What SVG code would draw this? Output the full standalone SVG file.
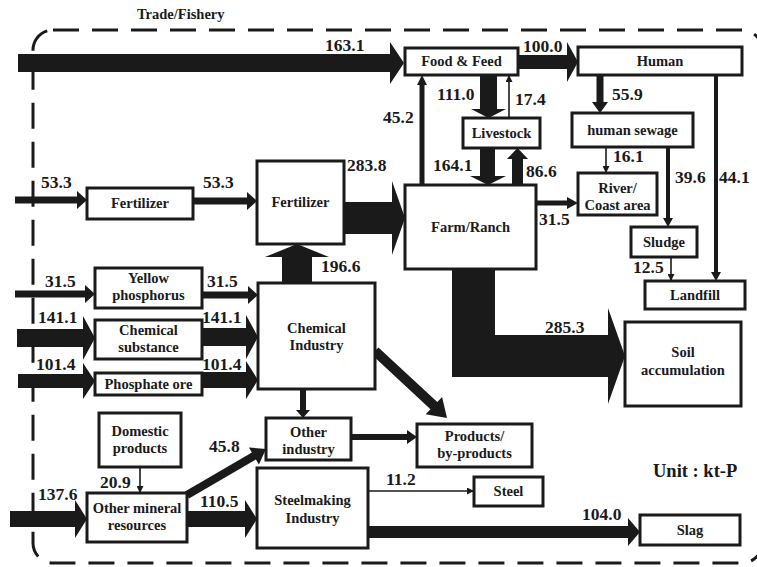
<svg xmlns="http://www.w3.org/2000/svg" width="757" height="567" viewBox="0 0 757 567">
<style>
.box{fill:#fff;stroke:#1a1a1a;stroke-width:3}
.flow{fill:#1a1a1a;stroke:none}
.thin{stroke:#1a1a1a;stroke-width:1.6;fill:none}
text{font-family:"Liberation Serif","Times New Roman",serif;font-weight:bold;fill:#1a1a1a}
.lbl{font-size:14.5px;text-anchor:middle}
.num{font-size:17.5px}
.border{fill:none;stroke:#1a1a1a;stroke-width:3;stroke-dasharray:26 13}
</style>
<defs>
<marker id="ah" viewBox="0 0 10 10" refX="10" refY="5" markerWidth="8" markerHeight="7" markerUnits="userSpaceOnUse" orient="auto">
<path d="M0,0 L10,5 L0,10 z" fill="#1a1a1a"/>
</marker>
</defs>
<rect width="757" height="567" fill="#fff"/>
<rect class="border" x="33" y="30" width="729" height="533" rx="20" ry="20"/>
<text x="137" y="19" style="font-size:14.5px">Trade/Fishery</text>

<g id="connectors">
<!-- 163.1 import to Food & Feed -->
<path class="flow" d="M18,54 L390,54 L390,42 L404,63 L390,84 L390,72 L18,72 Z"/>
<!-- 100.0 Food&Feed -> Human -->
<path class="flow" d="M518,55 L567,55 L567,42 L578,62 L567,82 L567,69 L518,69 Z"/>
<!-- 53.3 -> Fertilizer -->
<path class="flow" d="M15,196.5 L77,196.5 L77,191 L87,200 L77,209 L77,203.5 L15,203.5 Z"/>
<path class="flow" d="M193,197.5 L247,197.5 L247,192 L257,201 L247,210 L247,204.5 L193,204.5 Z"/>
<!-- 283.8 Fertilizer -> Farm -->
<path class="flow" d="M344,202 L392,202 L392,181 L405,218 L392,255 L392,234 L344,234 Z"/>
<!-- 196.6 Chemical -> Fertilizer -->
<path class="flow" d="M282,283 L282,257 L265,257 L297,244 L329,257 L312,257 L312,283 Z"/>
<!-- 31.5 -->
<path class="flow" d="M15,290.5 L85,290.5 L85,285 L95,294 L85,303 L85,297.5 L15,297.5 Z"/>
<path class="flow" d="M202,291.5 L248,291.5 L248,286 L258,295 L248,304 L248,298.5 L202,298.5 Z"/>
<!-- 141.1 -->
<path class="flow" d="M17,329 L83,329 L83,316 L95,338 L83,360 L83,347 L17,347 Z"/>
<path class="flow" d="M202,328 L246,328 L246,315 L258,337 L246,359 L246,346 L202,346 Z"/>
<!-- 101.4 -->
<path class="flow" d="M18,374 L83,374 L83,363 L95,381 L83,399 L83,388 L18,388 Z"/>
<path class="flow" d="M202,372 L246,372 L246,361 L258,380 L246,399 L246,388 L202,388 Z"/>
<!-- 137.6 -->
<path class="flow" d="M10,511 L75,511 L75,500 L87,519 L75,538 L75,527 L10,527 Z"/>
<!-- 110.5 -->
<path class="flow" d="M187,511 L245,511 L245,500 L257,519 L245,538 L245,527 L187,527 Z"/>
<!-- 45.8 Other mineral -> Other industry -->
<path class="flow" d="M185,491.5 L251.9,452.5 L248.9,447.4 L266,449 L258.9,464.6 L255.9,459.5 L189,498.5 Z"/>
<!-- Chemical -> Products -->
<path class="flow" d="M378.4,347.4 L437.3,402 L442.1,396.9 L447,418 L425.7,414.3 L430.5,409.2 L371.6,354.6 Z"/>
<!-- Chemical -> Other industry -->
<path class="flow" d="M300,389 L300,410 L296,410 L303,418 L310,410 L306,410 L306,389 Z"/>
<!-- Other industry -> Products -->
<path class="flow" d="M351,434 L407,434 L407,430 L417,437 L407,444 L407,440 L351,440 Z"/>
<!-- 11.2 Steelmaking -> Steel -->
<line class="thin" x1="368" y1="491" x2="474" y2="491" marker-end="url(#ah)"/>
<!-- 104.0 Slag -->
<path class="flow" d="M368,526 L628,526 L628,518 L640,532 L628,546 L628,538 L368,538 Z"/>
<!-- 20.9 Domestic -> Other mineral -->
<line class="thin" x1="140" y1="467" x2="140" y2="493" marker-end="url(#ah)"/>
<!-- 45.2 Farm -> Food&Feed -->
<path class="flow" d="M419.5,185 L419.5,85 L417,85 L422,75 L427,85 L424.5,85 L424.5,185 Z"/>
<!-- 111.0 Food&Feed -> Livestock -->
<path class="flow" d="M480,75 L480,109 L471,109 L488.5,118 L506,109 L497,109 L497,75 Z"/>
<!-- 17.4 Livestock -> Food&Feed -->
<line class="thin" x1="509" y1="118" x2="509" y2="75" marker-end="url(#ah)"/>
<!-- 164.1 Livestock -> Farm -->
<path class="flow" d="M480,148 L480,176 L470,176 L488,185 L506,176 L495,176 L495,148 Z"/>
<!-- 86.6 Farm -> Livestock -->
<path class="flow" d="M512,185 L512,159 L507,159 L517.5,148 L528,159 L523,159 L523,185 Z"/>
<!-- 31.5 Farm -> River -->
<path class="flow" d="M536,200.5 L567,200.5 L567,197 L578,203 L567,209 L567,205.5 L536,205.5 Z"/>
<!-- 55.9 Human -> sewage -->
<path class="flow" d="M596.5,75 L596.5,102 L592,102 L600,113 L608,102 L603.5,102 L603.5,75 Z"/>
<!-- 16.1 sewage -> River -->
<line class="thin" x1="606" y1="147" x2="606" y2="173" marker-end="url(#ah)"/>
<!-- 39.6 sewage -> Sludge -->
<path class="flow" d="M666,147 L666,218 L663,218 L668,227 L673,218 L670,218 L670,147 Z"/>
<!-- 44.1 Human -> Landfill -->
<path class="flow" d="M714,75 L714,272 L711,272 L716,281 L721,272 L718,272 L718,75 Z"/>
<!-- 12.5 Sludge -> Landfill -->
<line class="thin" x1="671" y1="257" x2="671" y2="281" marker-end="url(#ah)"/>
<!-- 285.3 Farm -> Soil accumulation -->
<path class="flow" d="M452,269 L495,269 L495,335 L608,335 L608,308 L625,356 L608,404 L608,377 L452,377 Z"/>
</g>

<g id="flow-values">
<text class="num" x="325" y="51">163.1</text>
<text class="num" x="523" y="52">100.0</text>
<text class="num" x="41" y="188">53.3</text>
<text class="num" x="203" y="188">53.3</text>
<text class="num" x="347" y="171">283.8</text>
<text class="num" x="321" y="272">196.6</text>
<text class="num" x="45" y="287">31.5</text>
<text class="num" x="207" y="287">31.5</text>
<text class="num" x="38" y="323">141.1</text>
<text class="num" x="202" y="323">141.1</text>
<text class="num" x="36" y="370">101.4</text>
<text class="num" x="202" y="370">101.4</text>
<text class="num" x="38" y="500">137.6</text>
<text class="num" x="200" y="507">110.5</text>
<text class="num" x="209" y="452">45.8</text>
<text class="num" x="100" y="488">20.9</text>
<text class="num" x="386" y="485">11.2</text>
<text class="num" x="582" y="520">104.0</text>
<text class="num" x="383" y="123">45.2</text>
<text class="num" x="437" y="100">111.0</text>
<text class="num" x="515" y="105">17.4</text>
<text class="num" x="433" y="171">164.1</text>
<text class="num" x="526" y="177">86.6</text>
<text class="num" x="539" y="225">31.5</text>
<text class="num" x="612" y="100">55.9</text>
<text class="num" x="613" y="162">16.1</text>
<text class="num" x="675" y="183">39.6</text>
<text class="num" x="719" y="183">44.1</text>
<text class="num" x="633" y="273">12.5</text>
<text class="num" x="545" y="333">285.3</text>
</g>

<g id="food-feed"><rect class="box" x="405" y="48" width="113" height="27"/><text class="lbl" x="461.5" y="66">Food &amp; Feed</text></g>
<g id="human"><rect class="box" x="578" y="47" width="164" height="28"/><text class="lbl" x="660" y="66">Human</text></g>
<g id="livestock"><rect class="box" x="463" y="118" width="77" height="30"/><text class="lbl" x="501.5" y="138">Livestock</text></g>
<g id="human-sewage"><rect class="box" x="572" y="113" width="121" height="34"/><text class="lbl" x="632.5" y="135">human sewage</text></g>
<g id="fertilizer-import"><rect class="box" x="87" y="188" width="106" height="31"/><text class="lbl" x="140" y="208">Fertilizer</text></g>
<g id="fertilizer"><rect class="box" x="257" y="161" width="87" height="83"/><text class="lbl" x="300.5" y="207">Fertilizer</text></g>
<g id="farm-ranch"><rect class="box" x="405" y="185" width="131" height="84"/><text class="lbl" x="470.5" y="232">Farm/Ranch</text></g>
<g id="river-coast"><rect class="box" x="578" y="173" width="79" height="42"/><text class="lbl" x="617.5" y="193">River/</text><text class="lbl" x="617.5" y="210">Coast area</text></g>
<g id="sludge"><rect class="box" x="631" y="227" width="66" height="30"/><text class="lbl" x="664" y="247">Sludge</text></g>
<g id="landfill"><rect class="box" x="645" y="281" width="100" height="28"/><text class="lbl" x="695" y="300">Landfill</text></g>
<g id="yellow-phosphorus"><rect class="box" x="95" y="268" width="107" height="40"/><text class="lbl" x="148.5" y="283">Yellow</text><text class="lbl" x="148.5" y="300">phosphorus</text></g>
<g id="chemical-substance"><rect class="box" x="95" y="320" width="107" height="39"/><text class="lbl" x="148.5" y="335">Chemical</text><text class="lbl" x="148.5" y="352">substance</text></g>
<g id="phosphate-ore"><rect class="box" x="95" y="373" width="107" height="22"/><text class="lbl" x="148.5" y="389">Phosphate ore</text></g>
<g id="chemical-industry"><rect class="box" x="258" y="283" width="117" height="106"/><text class="lbl" x="316.5" y="333">Chemical</text><text class="lbl" x="316.5" y="350">Industry</text></g>
<g id="domestic-products"><rect class="box" x="99" y="413" width="82" height="54"/><text class="lbl" x="140" y="436">Domestic</text><text class="lbl" x="140" y="453">products</text></g>
<g id="other-mineral"><rect class="box" x="87" y="493" width="100" height="49"/><text class="lbl" x="137" y="513">Other mineral</text><text class="lbl" x="137" y="530">resources</text></g>
<g id="other-industry"><rect class="box" x="266" y="418" width="85" height="42"/><text class="lbl" x="308.5" y="437">Other</text><text class="lbl" x="308.5" y="454">industry</text></g>
<g id="steelmaking"><rect class="box" x="257" y="468" width="111" height="80"/><text class="lbl" x="312.5" y="505">Steelmaking</text><text class="lbl" x="312.5" y="523">Industry</text></g>
<g id="products"><rect class="box" x="417" y="424" width="115" height="43"/><text class="lbl" x="474.5" y="441">Products/</text><text class="lbl" x="474.5" y="458">by-products</text></g>
<g id="steel"><rect class="box" x="474" y="477" width="69" height="29"/><text class="lbl" x="508.5" y="496">Steel</text></g>
<g id="soil-accumulation"><rect class="box" x="625" y="322" width="116" height="84"/><text class="lbl" x="683" y="357">Soil</text><text class="lbl" x="683" y="375">accumulation</text></g>
<g id="slag"><rect class="box" x="640" y="515" width="100" height="30"/><text class="lbl" x="690" y="535">Slag</text></g>
<text x="653" y="477" style="font-size:18.5px">Unit : kt-P</text>
</svg>
